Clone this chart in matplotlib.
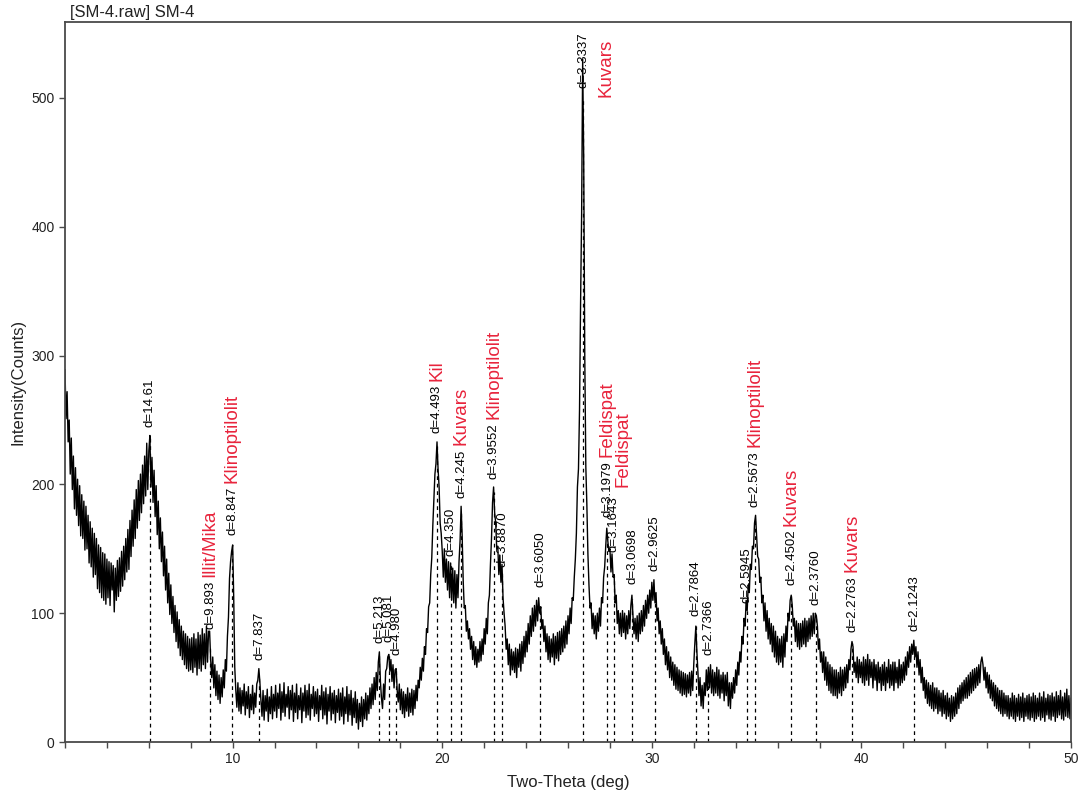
import numpy as np
import matplotlib
matplotlib.use("Agg")
import matplotlib.pyplot as plt
from matplotlib.ticker import FixedLocator, MultipleLocator

plt.rcParams['font.family'] = ['Liberation Sans', 'DejaVu Sans']

# ─── scan data (2-theta step 0.05 deg, one row = 1 degree) ───────────
two_theta_start = 2.0
two_theta_step = 0.05

counts_02_10 = [
    289, 251, 272, 233, 250, 208, 236, 196, 222, 181, 213, 176, 204, 168, 199, 160, 192, 158, 187, 149,
    183, 150, 176, 139, 171, 136, 166, 128, 162, 130, 158, 119, 153, 116, 151, 112, 147, 110, 146, 107,
    142, 112, 140, 106, 139, 118, 137, 101, 135, 110, 141, 113, 143, 117, 148, 121, 152, 126, 158, 132,
    165, 134, 172, 144, 180, 152, 188, 158, 196, 166, 203, 172, 208, 178, 215, 185, 222, 191, 232, 196,
    226, 238, 198, 221, 186, 211, 175, 199, 161, 187, 150, 174, 140, 163, 129, 152, 118, 142, 108, 131,
    99, 122, 92, 113, 85, 106, 78, 101, 73, 95, 67, 90, 64, 86, 60, 84, 57, 82, 55, 80,
    56, 81, 54, 84, 58, 80, 52, 85, 57, 83, 55, 88, 60, 84, 57, 90, 62, 86, 86, 64,
    50, 66, 42, 60, 36, 55, 33, 52, 30, 50, 35, 56, 42, 64, 55, 82, 97, 127, 140, 148,
]
counts_10_20 = [
    153, 112, 58, 40, 27, 46, 24, 42, 22, 40, 28, 45, 21, 39, 26, 43, 19, 37, 25, 44,
    22, 38, 27, 45, 48, 57, 46, 32, 20, 40, 17, 36, 24, 41, 16, 35, 22, 43, 18, 37,
    24, 44, 19, 38, 26, 45, 17, 39, 23, 46, 20, 37, 27, 43, 18, 40, 25, 44, 16, 38,
    23, 45, 18, 36, 25, 42, 15, 38, 24, 44, 19, 40, 21, 45, 17, 37, 26, 43, 20, 39,
    22, 41, 16, 36, 25, 44, 18, 39, 21, 42, 14, 37, 24, 43, 17, 38, 22, 40, 15, 36,
    23, 41, 17, 38, 20, 42, 14, 35, 22, 43, 16, 37, 21, 40, 13, 34, 19, 39, 15, 33,
    10, 30, 16, 35, 12, 33, 18, 38, 17, 36, 22, 42, 26, 45, 29, 50, 33, 54, 40, 62,
    70, 47, 34, 26, 45, 33, 55, 57, 66, 68, 55, 64, 47, 60, 42, 56, 57, 40, 31, 45,
    25, 41, 22, 39, 19, 37, 24, 42, 20, 38, 23, 41, 21, 40, 26, 44, 32, 48, 42, 58,
    48, 65, 55, 74, 68, 88, 85, 105, 108, 130, 143, 168, 188, 208, 216, 233, 212, 198, 170, 162,
]
counts_20_30 = [
    148, 128, 150, 124, 142, 118, 140, 112, 139, 110, 135, 108, 133, 104, 130, 112, 140, 156, 183, 160,
    125, 104, 106, 86, 94, 80, 88, 72, 82, 64, 78, 60, 74, 58, 72, 62, 78, 63, 80, 68,
    88, 76, 96, 84, 108, 114, 138, 158, 186, 198, 178, 170, 150, 152, 130, 145, 124, 138, 112, 100,
    90, 72, 80, 60, 76, 52, 72, 56, 70, 54, 73, 50, 72, 58, 76, 55, 78, 61, 82, 66,
    86, 70, 92, 76, 98, 82, 104, 86, 106, 90, 110, 94, 112, 100, 105, 88, 95, 78, 90, 70,
    84, 64, 82, 62, 80, 66, 84, 60, 82, 65, 85, 63, 86, 68, 88, 70, 90, 73, 94, 76,
    98, 84, 104, 92, 112, 110, 128, 142, 162, 198, 212, 258, 340, 410, 530, 452, 300, 214, 184, 146,
    122, 104, 108, 88, 100, 84, 98, 80, 100, 86, 104, 90, 112, 108, 128, 136, 152, 166, 156, 148,
    150, 132, 146, 128, 130, 108, 114, 92, 102, 84, 100, 82, 102, 85, 100, 80, 98, 84, 102, 88,
    106, 114, 98, 84, 96, 80, 98, 78, 100, 84, 102, 86, 106, 90, 110, 96, 114, 100, 118, 104,
]
counts_30_40 = [
    124, 110, 126, 108, 116, 94, 104, 84, 94, 76, 88, 68, 80, 60, 74, 56, 70, 50, 66, 48,
    62, 44, 60, 41, 58, 40, 56, 38, 55, 36, 54, 37, 53, 35, 52, 38, 54, 36, 55, 40,
    60, 76, 90, 70, 54, 36, 50, 28, 44, 26, 46, 36, 56, 40, 58, 42, 60, 38, 56, 36,
    54, 38, 58, 36, 56, 34, 52, 38, 54, 32, 52, 36, 54, 28, 46, 26, 46, 34, 50, 38,
    56, 44, 62, 52, 70, 62, 82, 76, 96, 90, 110, 102, 122, 116, 138, 134, 152, 150, 170, 176,
    160, 144, 142, 124, 128, 108, 114, 94, 108, 86, 102, 80, 96, 76, 92, 70, 90, 66, 86, 62,
    82, 60, 80, 62, 82, 58, 84, 66, 90, 78, 100, 94, 110, 114, 106, 90, 96, 78, 94, 74,
    92, 72, 92, 74, 94, 76, 96, 74, 94, 78, 96, 80, 98, 82, 100, 84, 100, 98, 90, 72,
    80, 62, 70, 54, 70, 48, 66, 44, 62, 40, 60, 38, 58, 36, 56, 36, 56, 34, 54, 38,
    58, 36, 56, 40, 58, 42, 60, 46, 64, 56, 72, 78, 74, 54, 62, 50, 66, 46, 64, 50,
]
counts_40_50 = [
    62, 46, 66, 44, 64, 48, 68, 44, 64, 50, 62, 42, 64, 48, 60, 40, 62, 46, 58, 40,
    60, 44, 62, 40, 58, 46, 64, 42, 60, 44, 62, 40, 62, 46, 58, 42, 64, 44, 60, 46,
    62, 48, 66, 52, 70, 58, 74, 62, 76, 68, 79, 66, 74, 58, 70, 52, 64, 46, 58, 40,
    50, 34, 48, 30, 46, 28, 44, 26, 46, 24, 42, 26, 42, 22, 40, 24, 38, 20, 40, 22,
    36, 18, 38, 20, 34, 16, 36, 18, 35, 20, 38, 22, 42, 26, 44, 30, 46, 32, 48, 34,
    50, 34, 52, 36, 54, 38, 56, 40, 57, 42, 58, 44, 60, 46, 62, 66, 60, 48, 58, 42,
    54, 38, 52, 34, 48, 32, 46, 28, 44, 26, 42, 24, 40, 22, 40, 20, 38, 22, 36, 20,
    36, 18, 34, 20, 38, 18, 36, 16, 34, 20, 37, 17, 35, 19, 38, 16, 34, 20, 36, 18,
    37, 17, 35, 19, 38, 16, 36, 18, 34, 20, 38, 17, 35, 19, 39, 16, 34, 21, 37, 18,
    36, 17, 38, 20, 35, 16, 39, 19, 36, 21, 40, 18, 35, 17, 38, 20, 41, 19, 36, 18,
    34,
]

# ─── peak list (2-theta, d label, marker height) ─────────────────────
peak_theta = [6.05, 8.93, 9.99, 11.28, 17.00, 17.44, 17.80, 19.74, 20.40, 20.91,
              22.46, 22.86, 24.67, 26.72, 27.88, 28.18, 29.06, 30.14, 32.10, 32.70,
              34.54, 34.92, 36.65, 37.83, 39.56, 42.52]
peak_labels = ["d=14.61", "d=9.893", "d=8.847", "d=7.837", "d=5.213", "d=5.081", "d=4.980",
               "d=4.493", "d=4.350", "d=4.245", "d=3.9552", "d=3.8870", "d=3.6050",
               "d=3.3337", "d=3.1979", "d=3.1643", "d=3.0698", "d=2.9625", "d=2.7864",
               "d=2.7366", "d=2.5945", "d=2.5673", "d=2.4502", "d=2.3760", "d=2.2763",
               "d=2.1243"]
peak_heights = [237, 80, 153, 56, 69, 70, 60, 232, 137, 182,
                197, 128, 113, 530, 167, 140, 115, 125, 90, 60,
                100, 175, 114, 99, 78, 79]

# phase names stacked above a d label
phase_names = ["Illit/Mika", "Klinoptilolit", "Kil", "Kuvars", "Klinoptilolit",
               "Feldispat", "Klinoptilolit", "Kuvars", "Kuvars"]
phase_on_peak = ["d=9.893", "d=8.847", "d=4.493", "d=4.245", "d=3.9552",
                 "d=3.1979", "d=2.5673", "d=2.4502", "d=2.2763"]
# phase names placed freely (2-theta, counts at text base)
free_names = ["Kuvars", "Feldispat"]
free_theta = [27.82, 28.63]
free_counts = [501, 198]

counts = np.array(counts_02_10 + counts_10_20 + counts_20_30 + counts_30_40 + counts_40_50, dtype=float)
theta = two_theta_start + two_theta_step * np.arange(len(counts))

red = '#e8243c'
frame = '#4a4a4a'

fig = plt.figure(figsize=(10.85, 7.91), dpi=100)
ax = fig.add_axes([65 / 1085, 1 - 742 / 791, (1071 - 65) / 1085, (742 - 22) / 791])

# dashed peak markers under the trace
for t in peak_theta:
    ax.plot([t, t], [0, np.interp(t, theta, counts)], color='black', lw=0.9,
            ls=(0, (3, 3)), zorder=1)

ax.plot(theta, counts, color='black', lw=1.0, zorder=2)

d_text = {}
for t, lab, h in zip(peak_theta, peak_labels, peak_heights):
    d_text[lab] = ax.annotate(lab, xy=(t, min(h, 500)), xytext=(0, 7),
                              textcoords='offset points', rotation=90,
                              ha='center', va='bottom', fontsize=9.5)

for name, lab in zip(phase_names, phase_on_peak):
    ax.annotate(name, xy=(0.5, 1), xycoords=d_text[lab], xytext=(0, 3),
                textcoords='offset points', rotation=90, ha='center',
                va='bottom', color=red, fontsize=13.5)

for name, t, c in zip(free_names, free_theta, free_counts):
    ax.text(t, c, name, rotation=90, ha='center', va='bottom', color=red, fontsize=13.5)

ax.set_xlim(2, 50)
ax.set_ylim(0, 559)
ax.xaxis.set_major_locator(FixedLocator([10, 20, 30, 40, 50]))
ax.xaxis.set_minor_locator(MultipleLocator(2))
ax.yaxis.set_major_locator(FixedLocator([0, 100, 200, 300, 400, 500]))
ax.tick_params(axis='both', which='both', direction='out', length=4, width=1,
               color=frame, labelsize=10, labelcolor='#222222')
for sp in ax.spines.values():
    sp.set_color(frame)
    sp.set_linewidth(1.3)

ax.set_xlabel('Two-Theta (deg)', fontsize=12, color='#222222', labelpad=6)
ax.set_ylabel('Intensity(Counts)', fontsize=12, color='#222222', labelpad=4)
fig.text(70 / 1085, 1 - 13 / 791, '[SM-4.raw] SM-4', fontsize=12, color='#222222',
         ha='left', va='center')

fig.savefig('out.png', dpi=100)
